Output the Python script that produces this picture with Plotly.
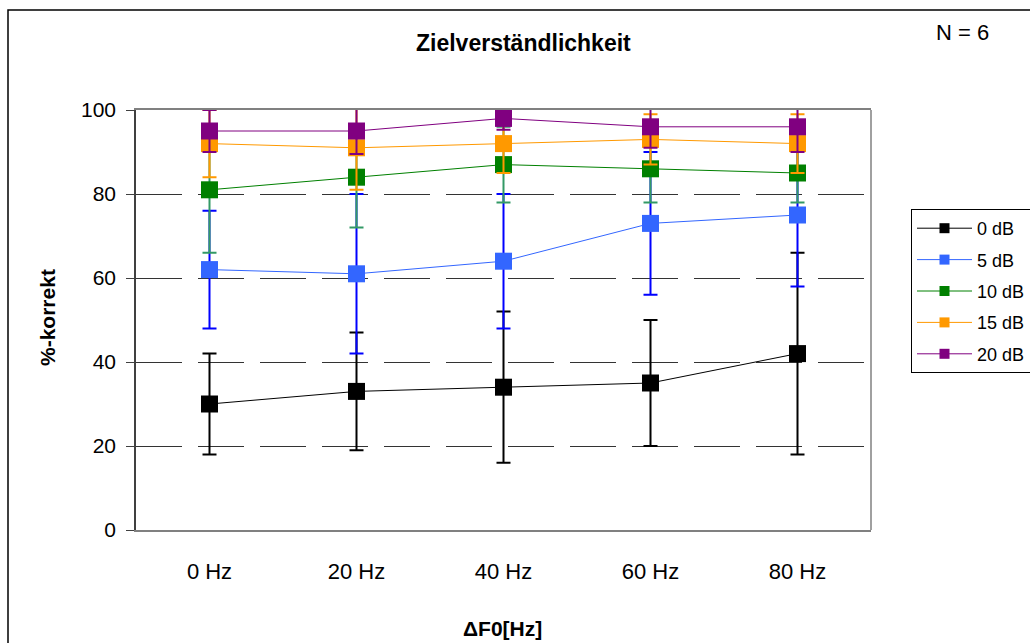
import plotly.graph_objects as go

categories = ["0 Hz", "20 Hz", "40 Hz", "60 Hz", "80 Hz"]
series_names = ["0 dB", "5 dB", "10 dB", "15 dB", "20 dB"]

mean_0db = [30, 33, 34, 35, 42]
err_0db = [12, 14, 18, 15, 24]
mean_5db = [62, 61, 64, 73, 75]
err_5db = [14, 19, 16, 17, 17]
mean_10db = [81, 84, 87, 86, 85]
err_10db = [15, 12, 9, 8, 7]
mean_15db = [92, 91, 92, 93, 92]
err_15db = [8, 10, 7, 6, 7]
mean_20db = [95, 95, 98, 96, 96]
err_20db = [5, 5.5, 2.7, 5, 6]

means = [mean_0db, mean_5db, mean_10db, mean_15db, mean_20db]
errs = [err_0db, err_5db, err_10db, err_15db, err_20db]
marker_colors = ["#000000", "#3366FF", "#008000", "#FF9900", "#800080"]
error_colors = ["#000000", "#0000FF", "#339966", "#FF9900", "#800080"]

FONT = "Liberation Sans, Arial, sans-serif"

fig = go.Figure()
for name, m, e, mc, ec in zip(series_names, means, errs, marker_colors, error_colors):
    fig.add_trace(go.Scatter(
        x=categories, y=m, name=name, mode="lines+markers",
        line=dict(color=mc, width=1),
        marker=dict(symbol="square", size=17, color=mc, line=dict(width=0)),
        error_y=dict(type="data", array=e, visible=True, color=ec, thickness=2, width=7),
        cliponaxis=False, showlegend=False,
    ))
# legend entries (no error bars, smaller markers as in the reference legend)
for name, mc in zip(series_names, marker_colors):
    fig.add_trace(go.Scatter(
        x=[None], y=[None], name=name, mode="lines+markers",
        line=dict(color=mc, width=1),
        marker=dict(symbol="square", size=10, color=mc, line=dict(width=0)),
        legendgroup=name, showlegend=True,
    ))

L, R, T, B = 136, 871, 110, 530
W, H = 1030, 643
pw, ph = R - L, B - T

def px(x):
    return (x - L) / pw

def py(y):
    return (B - y) / ph

def ann(text, x, y, size, angle=0):
    return dict(text=text, xref="paper", yref="paper", x=px(x), y=py(y),
                xanchor="center", yanchor="middle", textangle=angle,
                showarrow=False, font=dict(size=size, family=FONT, color="black"))

fig.update_layout(
    width=W, height=H,
    margin=dict(l=L, r=W - R, t=T, b=H - B, autoexpand=False),
    paper_bgcolor="white", plot_bgcolor="white",
    font=dict(family=FONT, color="black", size=21),
    showlegend=True,
    legend=dict(
        x=px(911), y=py(209), xanchor="left", yanchor="top",
        bordercolor="black", borderwidth=1, bgcolor="white",
        font=dict(size=18, family=FONT), itemsizing="trace",
        itemwidth=55, tracegroupgap=5,
    ),
    xaxis=dict(
        type="category", categoryorder="array", categoryarray=categories,
        range=[-0.5, 4.5], showgrid=False, zeroline=False,
        showline=True, linecolor="#808080", linewidth=1.5, mirror=True,
        ticks="", tickfont=dict(size=22, family=FONT), ticklabelstandoff=21,
    ),
    yaxis=dict(
        range=[0, 100], tickvals=[0, 20, 40, 60, 80, 100],
        showgrid=True, gridcolor="#333333", gridwidth=1, griddash="46px,16px",
        zeroline=False, showline=True, linecolor="#404040", linewidth=1.5,
        ticks="outside", ticklen=8, tickcolor="#404040",
        tickfont=dict(size=21, family=FONT), ticklabelstandoff=6,
    ),
    shapes=[
        dict(type="rect", xref="paper", yref="paper",
             x0=px(8), y0=py(660), x1=px(1045), y1=py(10),
             line=dict(color="black", width=1.5), layer="below"),
        dict(type="line", xref="paper", yref="paper", x0=1, x1=1, y0=0, y1=1,
             line=dict(color="#808080", width=1.5)),
    ],
    annotations=[
        ann("<b>Zielverständlichkeit</b>", 523, 43, 23),
        ann("N = 6", 962, 32, 22),
        ann("<b>ΔF0[Hz]</b>", 502, 628, 21),
        ann("<b>%-korrekt</b>", 47, 318, 21, -90),
    ],
)

fig.write_html("out.html")
